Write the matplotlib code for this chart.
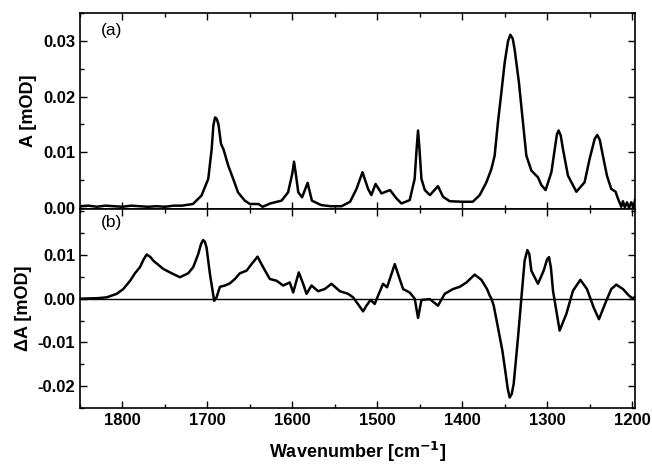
import matplotlib as mpl
mpl.use('Agg')
import numpy as np
import matplotlib.pyplot as plt
from matplotlib.ticker import MultipleLocator, FormatStrFormatter

# (a) absorbance
wn_a = [1850, 1840, 1830, 1820, 1810, 1800, 1790, 1780, 1770, 1760, 1750, 1740, 1730,
        1717, 1707, 1699, 1695, 1693, 1691, 1689, 1687, 1684, 1681, 1675.5, 1669.6, 1664,
        1656, 1650, 1640, 1635, 1626, 1612.7, 1605, 1600, 1598, 1596, 1593, 1588.5, 1582,
        1577, 1566, 1555, 1542, 1532, 1524.5, 1517.4, 1510.8, 1507, 1502, 1495, 1485,
        1477.4, 1471.5, 1461.8, 1456, 1453.5, 1452, 1450.5, 1448, 1444, 1438, 1428.5,
        1422.6, 1414.7, 1400, 1387.6, 1379.4, 1371.5, 1365.6, 1361.8, 1357.9, 1353.9,
        1350, 1346, 1343.3, 1340.5, 1338.2, 1333.2, 1328.5, 1324.5, 1318.6, 1310.8,
        1306.8, 1301.8, 1295, 1291, 1288.5, 1286.5, 1284, 1281.4, 1275.5, 1265.6, 1255.9,
        1250, 1244, 1241, 1238, 1234.4, 1229.6, 1224.5, 1219.4, 1216.7, 1212.7, 1210.8,
        1208.5, 1206, 1203.5, 1201, 1198, 1196.5]
abs_a = [0.0003, 0.0004, 0.0002, 0.0004, 0.0003, 0.0002, 0.0004, 0.0003, 0.0002, 0.0003,
         0.0002, 0.0004, 0.0004, 0.0007, 0.0022, 0.0052, 0.0105, 0.0148, 0.01625, 0.0160,
         0.0150, 0.0115, 0.0105, 0.0076, 0.0052, 0.0028, 0.0013, 0.0007, 0.0007, 0.0002,
         0.0008, 0.0013, 0.0028, 0.0062, 0.0083, 0.0062, 0.0028, 0.0019, 0.0045, 0.0013,
         0.0005, 0.0003, 0.0003, 0.0011, 0.0034, 0.0064, 0.0034, 0.0023, 0.0043, 0.0026,
         0.0032, 0.0017, 0.0008, 0.0014, 0.0052, 0.0110, 0.0139, 0.0110, 0.0052, 0.0032,
         0.0023, 0.0039, 0.0020, 0.0012, 0.0011, 0.0011, 0.0023, 0.0046, 0.0070, 0.0094,
         0.0154, 0.0207, 0.0261, 0.0300, 0.0311, 0.0304, 0.0284, 0.0225, 0.0154, 0.0094,
         0.0067, 0.0055, 0.0041, 0.0032, 0.0064, 0.0106, 0.0132, 0.0139, 0.0130, 0.0106,
         0.0058, 0.0029, 0.0046, 0.0088, 0.0124, 0.0131, 0.0122, 0.0094, 0.0058, 0.0034,
         0.0029, 0.0017, 0.0002, 0.0012, 0.0001, 0.0010, 0.0000, 0.0010, 0.0000, 0.0015]

# (b) difference spectrum
wn_b = [1850, 1830, 1818.6, 1806.8, 1799, 1791, 1785.3, 1779.4, 1775, 1771.5, 1767,
        1763.8, 1752, 1742, 1732.4, 1722.6, 1716.7, 1710.8, 1707.5, 1705, 1703, 1701,
        1697, 1692, 1689.2, 1685.3, 1679.4, 1673.5, 1667.6, 1661.8, 1653.9, 1648, 1641,
        1634.4, 1626.5, 1618.6, 1610.8, 1603, 1599, 1592.4, 1587.3, 1583.3, 1577.4,
        1569.6, 1561.8, 1553.9, 1544, 1534.3, 1528.5, 1521.4, 1516.7, 1512.7, 1508,
        1503, 1499, 1493.2, 1488.5, 1483.3, 1479.4, 1474.3, 1469.6, 1461.8, 1455.9,
        1452, 1448, 1438.2, 1428.5, 1420.6, 1410.8, 1402.9, 1395, 1385.3, 1377.4, 1370.8,
        1367.6, 1365.6, 1362.9, 1357.9, 1352.7, 1348.8, 1346.5, 1344.1, 1341.7, 1339.4,
        1334.3, 1329.6, 1326.5, 1323.3, 1321, 1318.6, 1310.8, 1304.1, 1300, 1297.8,
        1295.5, 1293.1, 1285.3, 1277.4, 1269.6, 1260.9, 1253.1, 1245.3, 1239, 1230.4,
        1224.5, 1218.6, 1210.8, 1203.7, 1199, 1196.5]
dabs_b = [0.0, 0.0001, 0.0003, 0.0011, 0.0022, 0.0041, 0.0058, 0.0072, 0.0090, 0.0101,
          0.0095, 0.0087, 0.0068, 0.0058, 0.0049, 0.0058, 0.0072, 0.0102, 0.0125, 0.0134,
          0.0130, 0.0117, 0.0056, -0.0005, 0.0003, 0.0027, 0.0030, 0.0035, 0.0045, 0.0058,
          0.0064, 0.0079, 0.0096, 0.0072, 0.0045, 0.0041, 0.0030, 0.0037, 0.0014, 0.0060,
          0.0034, 0.0011, 0.0030, 0.0017, 0.0022, 0.0034, 0.0017, 0.0011, 0.0003,
          -0.0016, -0.0029, -0.0016, -0.0003, -0.0012, 0.0007, 0.0034, 0.0026, 0.0056,
          0.0079, 0.0049, 0.0022, 0.0014, 0.0, -0.0044, -0.0003, -0.0001, -0.0016, 0.0011,
          0.0022, 0.0027, 0.0037, 0.0055, 0.0043, 0.0022, 0.0007, 0.0, -0.0016, -0.0066,
          -0.0119, -0.0172, -0.0205, -0.0226, -0.0218, -0.0195, -0.0089, 0.0018, 0.0087,
          0.0111, 0.0102, 0.0064, 0.0034, 0.0064, 0.0090, 0.0095, 0.0070, 0.0018, -0.0073,
          -0.0035, 0.0018, 0.0043, 0.0022, -0.0020, -0.0047, -0.0005, 0.0022, 0.0032,
          0.0022, 0.0007, 0.0, 0.0005]

plt.rcParams['font.family'] = ['Liberation Sans', 'DejaVu Sans']

fig = plt.figure(figsize=(6.52, 4.66), dpi=100)
ax1 = fig.add_axes([0.1227, 0.5515, 0.8513, 0.4205])
ax2 = fig.add_axes([0.1227, 0.1245, 0.8513, 0.427])

ax1.plot(wn_a, abs_a, color='black', lw=1.8, solid_joinstyle='round')
ax2.plot(wn_b, dabs_b, color='black', lw=1.8, solid_joinstyle='round')
ax2.axhline(0, color='black', lw=1.0)

for ax in (ax1, ax2):
    ax.set_xlim(1850, 1196.5)
    ax.xaxis.set_major_locator(MultipleLocator(100))
    ax.xaxis.set_minor_locator(MultipleLocator(50))
    ax.yaxis.set_minor_locator(MultipleLocator(0.005))
    ax.yaxis.set_major_formatter(FormatStrFormatter('%.2f'))
    ax.tick_params(which='both', direction='in', top=True, right=True, width=1.0)
    ax.tick_params(which='major', length=5, labelsize=12)
    ax.tick_params(which='minor', length=3)
    for s in ax.spines.values():
        s.set_linewidth(1.2)

ax1.set_ylim(-0.0002, 0.035)
ax1.set_yticks([0.0, 0.01, 0.02, 0.03])
ax1.tick_params(labelbottom=False)

ax2.set_ylim(-0.025, 0.0205)
ax2.set_yticks([-0.02, -0.01, 0.0, 0.01])

for ax in (ax1, ax2):
    for lab in ax.get_yticklabels() + ax.get_xticklabels():
        lab.set_fontweight('bold')

ax1.text(0.037, 0.91, '(a)', transform=ax1.transAxes, fontsize=12.5, va='center')
ax2.text(0.037, 0.93, '(b)', transform=ax2.transAxes, fontsize=12.5, va='center')

ax1.set_ylabel('A [mOD]', fontsize=13, fontweight='bold')
ax2.set_ylabel('\u0394A [mOD]', fontsize=13, fontweight='bold')
ax2.set_xlabel('Wavenumber [cm$^{\\mathbf{-1}}$]', fontsize=13, fontweight='bold', labelpad=9)
fig.align_ylabels([ax1, ax2])

plt.savefig('out.png', dpi=100)
